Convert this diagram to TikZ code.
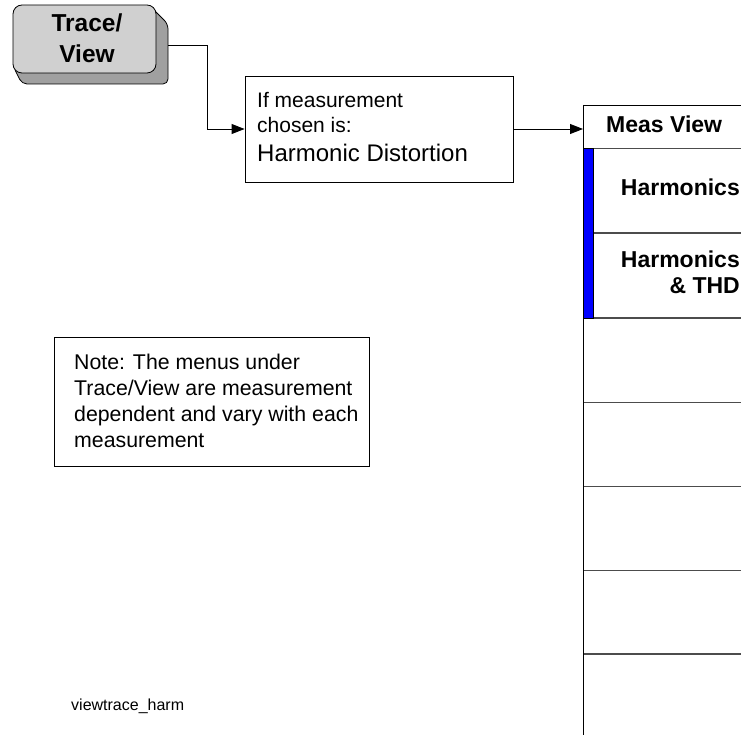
\documentclass[tikz,border=0pt]{standalone}
\usepackage{fontspec}
\setmainfont{Liberation Sans}
\usepackage{xcolor}
\usetikzlibrary{arrows.meta}

\definecolor{keyface}{HTML}{D0D0D0}
\definecolor{keyside}{HTML}{A0A0A0}
\definecolor{activebar}{HTML}{0000FF}

\begin{document}
\begin{tikzpicture}[x=1pt, y=-1pt,
  link/.style={line width=0.9pt, -{Triangle[length=13pt,width=10pt]}},
  infobox/.style={draw, line width=0.9pt, inner sep=0pt},
  softkey/.style={draw=black!70, line width=1.2pt, minimum width=200pt, minimum height=84pt, anchor=north west, inner sep=0pt},
  keylabel/.style={font=\fontsize{23}{26}\selectfont\bfseries, inner sep=0pt}]
\useasboundingbox (0,0) rectangle (741,735);
\clip (0,0) rectangle (741,735);

% Hardkey
\fill[keyside, draw=black, line width=0.8pt, rounded corners=5pt] (150,6) -- (168,24) -- (168,84) -- (22,84) -- (13,66) -- cycle;
\node[draw, fill=keyface, rounded corners=9pt, line width=0.8pt, minimum width=143pt, minimum height=68pt, inner sep=0pt] (tracekey) at (84.5,39) {};
\node[font=\fontsize{24.5}{31}\selectfont\bfseries, align=center, inner sep=0pt, anchor=base] (tracetext) at (87,63) {Trace/\\View};
\coordinate (keyedge) at (168,45);

% Condition box
\node[infobox, minimum width=268pt, minimum height=106pt] (cond) at (379,129) {};
\node[font=\fontsize{21}{25}\selectfont, align=left, inner sep=0pt, anchor=base west] (condtext) at (257,162) {If measurement\\chosen is:\\[4pt]{\fontsize{24}{28}\selectfont Harmonic Distortion}};

% Note
\node[infobox, minimum width=315pt, minimum height=129pt] (note) at (211.5,401.5) {};
\node[font=\fontsize{21.3}{25.7}\selectfont, align=left, inner sep=0pt, anchor=base west] (notetext) at (74,447) {Note: The menus under\\Trace/View are measurement\\dependent and vary with each\\measurement};

% Menu
\node[softkey, draw=black, minimum height=43pt] (measview) at (583,105) {};
\foreach \name/\top in {harm/148, harmthd/233, blankA/318, blankB/402, blankC/486, blankD/570, blankE/653}
  \node[softkey] (\name) at (583,\top) {};
\fill[activebar, draw=black, line width=0.6pt] (harm.north west) rectangle ([xshift=10pt]harmthd.south west);
\draw[line width=1pt] (measview.north west) -- (blankE.south west);

\node[keylabel, anchor=base west] (measviewtext) at (606,133) {Meas View};
\node[keylabel, anchor=base east] (harmtext) at (740,196) {Harmonics};
\node[keylabel, align=right, anchor=base east] (harmthdtext) at (740,293) {Harmonics\\\& THD};

% Connectors
\draw[link] (keyedge) -- ++(39,0) |- (cond.west);
\draw[link] (cond.east) -- (cond.east -| measview.west);

\node[font=\fontsize{16}{19}\selectfont, anchor=base west, inner sep=0pt] (figname) at (71,710) {viewtrace\_harm};
\end{tikzpicture}
\end{document}
